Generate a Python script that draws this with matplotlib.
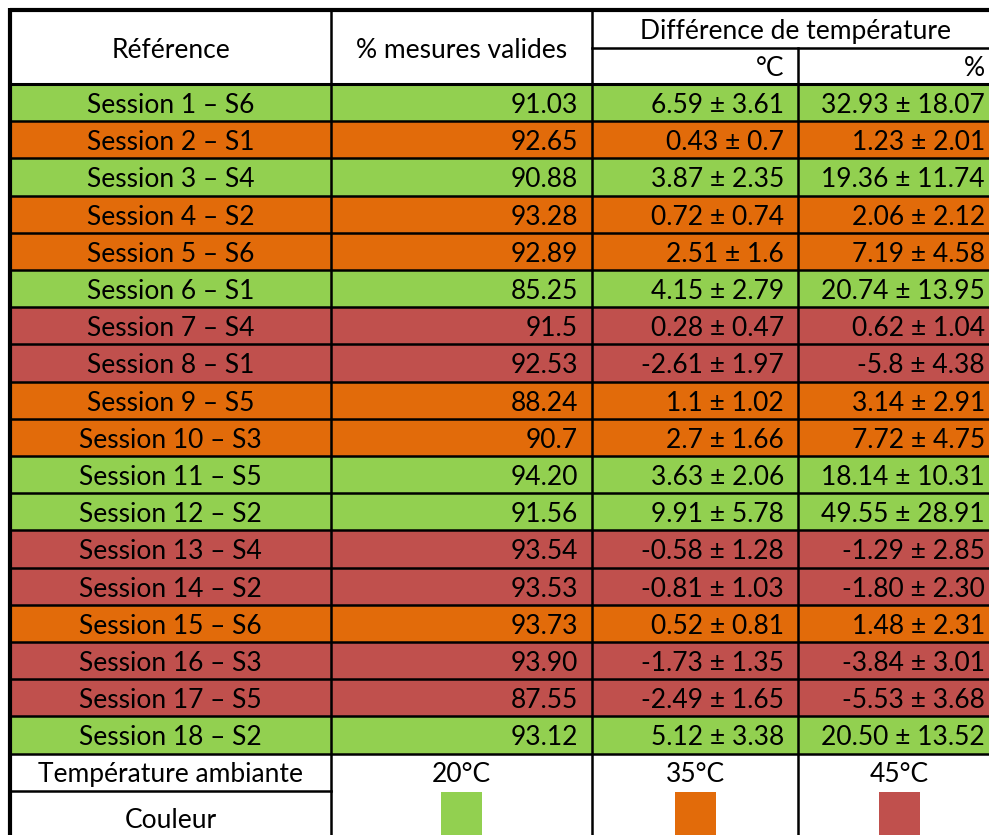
import matplotlib
matplotlib.use("Agg")
import matplotlib.pyplot as plt
from matplotlib.patches import Rectangle

# ---- data ----
references = ["Session 1 – S6", "Session 2 – S1", "Session 3 – S4", "Session 4 – S2",
              "Session 5 – S6", "Session 6 – S1", "Session 7 – S4", "Session 8 – S1",
              "Session 9 – S5", "Session 10 – S3", "Session 11 – S5", "Session 12 – S2",
              "Session 13 – S4", "Session 14 – S2", "Session 15 – S6", "Session 16 – S3",
              "Session 17 – S5", "Session 18 – S2"]
valid_pct = ["91.03", "92.65", "90.88", "93.28", "92.89", "85.25", "91.5", "92.53", "88.24",
             "90.7", "94.20", "91.56", "93.54", "93.53", "93.73", "93.90", "87.55", "93.12"]
diff_c_mean = ["6.59", "0.43", "3.87", "0.72", "2.51", "4.15", "0.28", "-2.61", "1.1",
               "2.7", "3.63", "9.91", "-0.58", "-0.81", "0.52", "-1.73", "-2.49", "5.12"]
diff_c_sd = ["3.61", "0.7", "2.35", "0.74", "1.6", "2.79", "0.47", "1.97", "1.02",
             "1.66", "2.06", "5.78", "1.28", "1.03", "0.81", "1.35", "1.65", "3.38"]
diff_p_mean = ["32.93", "1.23", "19.36", "2.06", "7.19", "20.74", "0.62", "-5.8", "3.14",
               "7.72", "18.14", "49.55", "-1.29", "-1.80", "1.48", "-3.84", "-5.53", "20.50"]
diff_p_sd = ["18.07", "2.01", "11.74", "2.12", "4.58", "13.95", "1.04", "4.38", "2.91",
             "4.75", "10.31", "28.91", "2.85", "2.30", "2.31", "3.01", "3.68", "13.52"]
ambient = [20, 35, 20, 35, 35, 20, 45, 45, 35, 35, 20, 20, 45, 45, 35, 45, 45, 20]
legend_temps = [20, 35, 45]
temp_colors = {20: "#92D050", 35: "#E26B0A", 45: "#C0504D"}

# ---- layout (pixels) ----
W, H = 989, 835
fig = plt.figure(figsize=(W / 100, H / 100), dpi=100)
ax = fig.add_axes([0, 0, 1, 1])
ax.set_xlim(0, W)
ax.set_ylim(H, 0)
ax.axis("off")

plt.rcParams['font.family'] = ['Lato', 'DejaVu Sans']
FS = 19

col_x = [10, 331, 592, 798, 1000]
top = 10
sub_y = 48
head_bot = 84
row_h = (753.5 - head_bot) / len(references)
temp_bot = 791
bottom = 900
dy = 3  # text baseline offset

# backgrounds for data rows
for i, t in enumerate(ambient):
    y0 = head_bot + i * row_h
    ax.add_patch(Rectangle((col_x[0], y0), col_x[-1] - col_x[0], row_h,
                           facecolor=temp_colors[t], edgecolor="none", zorder=1))

# header texts
ax.text((col_x[0] + col_x[1]) / 2, (top + head_bot) / 2 + dy, "Référence",
        ha="center", va="center", fontsize=FS, zorder=3)
ax.text((col_x[1] + col_x[2]) / 2, (top + head_bot) / 2 + dy, "% mesures valides",
        ha="center", va="center", fontsize=FS, zorder=3)
ax.text((col_x[2] + col_x[4]) / 2, (top + sub_y) / 2 + 2, "Différence de température",
        ha="center", va="center", fontsize=FS, zorder=3)
ax.text(col_x[3] - 14, (sub_y + head_bot) / 2 + dy, "°C",
        ha="right", va="center", fontsize=FS, zorder=3)
ax.text(985, (sub_y + head_bot) / 2 + dy, "%",
        ha="right", va="center", fontsize=FS, zorder=3)

# data texts
for i in range(len(references)):
    yc = head_bot + (i + 0.5) * row_h + dy
    ax.text((col_x[0] + col_x[1]) / 2, yc, references[i], ha="center", va="center",
            fontsize=FS, zorder=3)
    ax.text(col_x[2] - 14, yc, valid_pct[i], ha="right", va="center", fontsize=FS, zorder=3)
    ax.text(col_x[3] - 14, yc, f"{diff_c_mean[i]} ± {diff_c_sd[i]}", ha="right",
            va="center", fontsize=FS, zorder=3)
    ax.text(985, yc, f"{diff_p_mean[i]} ± {diff_p_sd[i]}", ha="right",
            va="center", fontsize=FS, zorder=3)

# legend rows
legend_y = (head_bot + 18 * row_h + temp_bot) / 2 + 2
ax.text((col_x[0] + col_x[1]) / 2, legend_y, "Température ambiante",
        ha="center", va="center", fontsize=FS, zorder=3)
ax.text((col_x[0] + col_x[1]) / 2, 820, "Couleur", ha="center", va="center",
        fontsize=FS, zorder=3)
for j, t in enumerate(legend_temps):
    xc = (col_x[j + 1] + col_x[j + 2]) / 2
    ax.text(xc, legend_y, f"{t}°C", ha="center", va="center", fontsize=FS, zorder=3)
    ax.add_patch(Rectangle((xc - 20.5, 792), 41, 60, facecolor=temp_colors[t],
                           edgecolor="none", zorder=2))

# grid lines
lw_thin = 1.8
lw_thick = 3.0
ax.plot([col_x[0], col_x[-1]], [top, top], color="black", lw=lw_thick, zorder=4,
        solid_capstyle="butt")
ax.plot([col_x[2], col_x[-1]], [sub_y, sub_y], color="black", lw=lw_thin, zorder=4)
ax.plot([col_x[0], col_x[-1]], [head_bot, head_bot], color="black", lw=2.2, zorder=4)
for i in range(1, len(references) + 1):
    y = head_bot + i * row_h
    ax.plot([col_x[0], col_x[-1]], [y, y], color="black", lw=lw_thin, zorder=4)
ax.plot([col_x[0], col_x[1]], [temp_bot, temp_bot], color="black", lw=lw_thin, zorder=4)
ax.plot([col_x[0], col_x[0]], [top - 2, bottom], color="black", lw=lw_thick, zorder=4,
        solid_capstyle="butt")
ax.plot([col_x[1], col_x[1]], [top, bottom], color="black", lw=lw_thin, zorder=4)
ax.plot([col_x[2], col_x[2]], [top, bottom], color="black", lw=lw_thin, zorder=4)
ax.plot([col_x[3], col_x[3]], [sub_y, bottom], color="black", lw=lw_thin, zorder=4)

fig.savefig("out.png", dpi=100, facecolor="white")
